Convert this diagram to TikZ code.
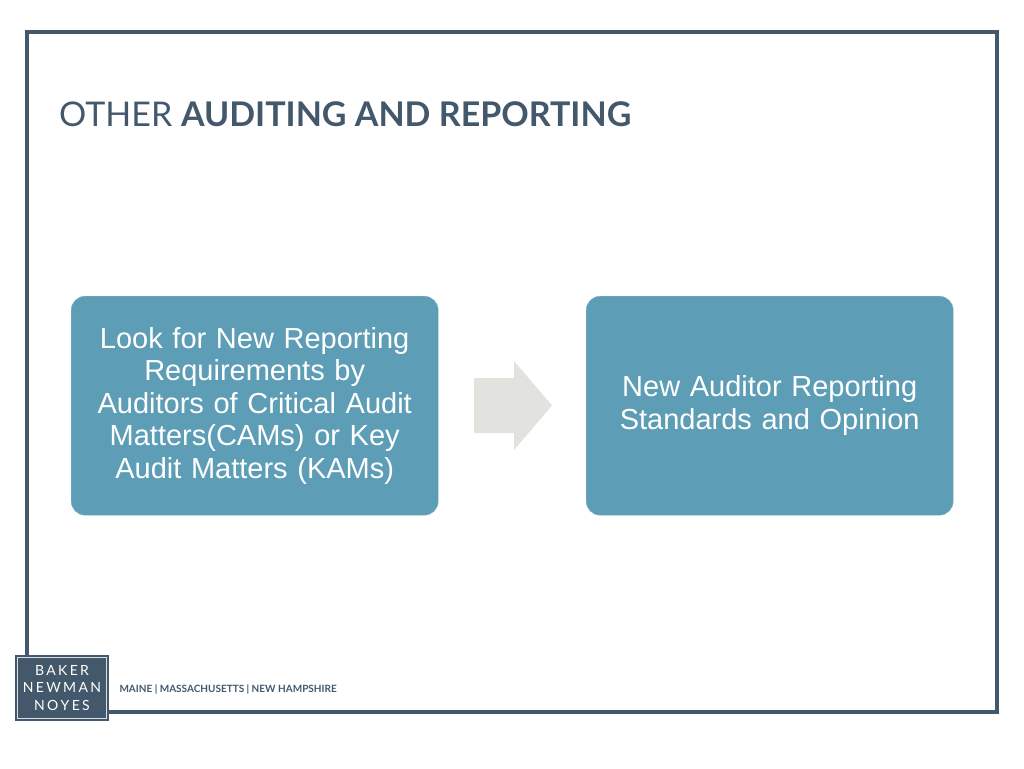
\documentclass[tikz,border=0pt]{standalone}
\usepackage{fontspec}
\setmainfont{Liberation Sans}
\newfontfamily\titlefont{Lato}
\definecolor{slate}{HTML}{44586B}
\definecolor{teal}{HTML}{5D9DB5}
\definecolor{arrowgray}{HTML}{E2E2DE}
\tikzset{
  stepbox/.style={draw=teal!80!white, fill=teal, rounded corners=14pt, minimum width=367pt,
    minimum height=219pt, text width=360pt, align=center, text=white,
    font=\fontsize{29}{32.5}\selectfont, anchor=north west},
}
\begin{document}
\begin{tikzpicture}[x=1pt, y=-1pt]
    % Page
    \useasboundingbox[fill=white] (0,0) rectangle (1024,768);
    \draw[slate, line width=4pt] (27,32) rectangle (997,712);

    % Title
    \node[anchor=base west, text=slate, inner sep=0pt, font=\titlefont\fontsize{34}{38}\selectfont]
        (title) at (59,126) {OTHER \textbf{AUDITING AND REPORTING}};

    % Boxes
    \node[stepbox] (look) at (71,296) {Look for New Reporting\\Requirements by\\Auditors of Critical Audit\\Matters(CAMs) or Key\\Audit Matters (KAMs)};
    \node[stepbox] (new) at (586,296) {New Auditor Reporting\\Standards and Opinion};
    \fill[arrowgray] (474,378) -- (514,378) -- (514,361) -- (552,405.5) -- (514,450)
        -- (514,433) -- (474,433) -- cycle;

    % Logo
    \node[fill=slate, minimum width=94pt, minimum height=66pt, inner sep=0pt] (logo) at (62,688) {};
    \draw[white!80!slate, line width=0.8pt] ([shift={(3,3)}]logo.north west) rectangle ([shift={(-3,-3)}]logo.south east);
    \node[text=white, align=center, font=\titlefont\fontsize{14}{17.5}\selectfont] (logotext) at (logo)
        {B\,A\,K\,E\,R\\N\,E\,W\,M\,A\,N\\N\,O\,Y\,E\,S};
    \node[anchor=west, text=slate, font=\titlefont\bfseries\fontsize{10}{12}\selectfont] (states) at (116,689)
        {MAINE | MASSACHUSETTS | NEW HAMPSHIRE};
\end{tikzpicture}
\end{document}
